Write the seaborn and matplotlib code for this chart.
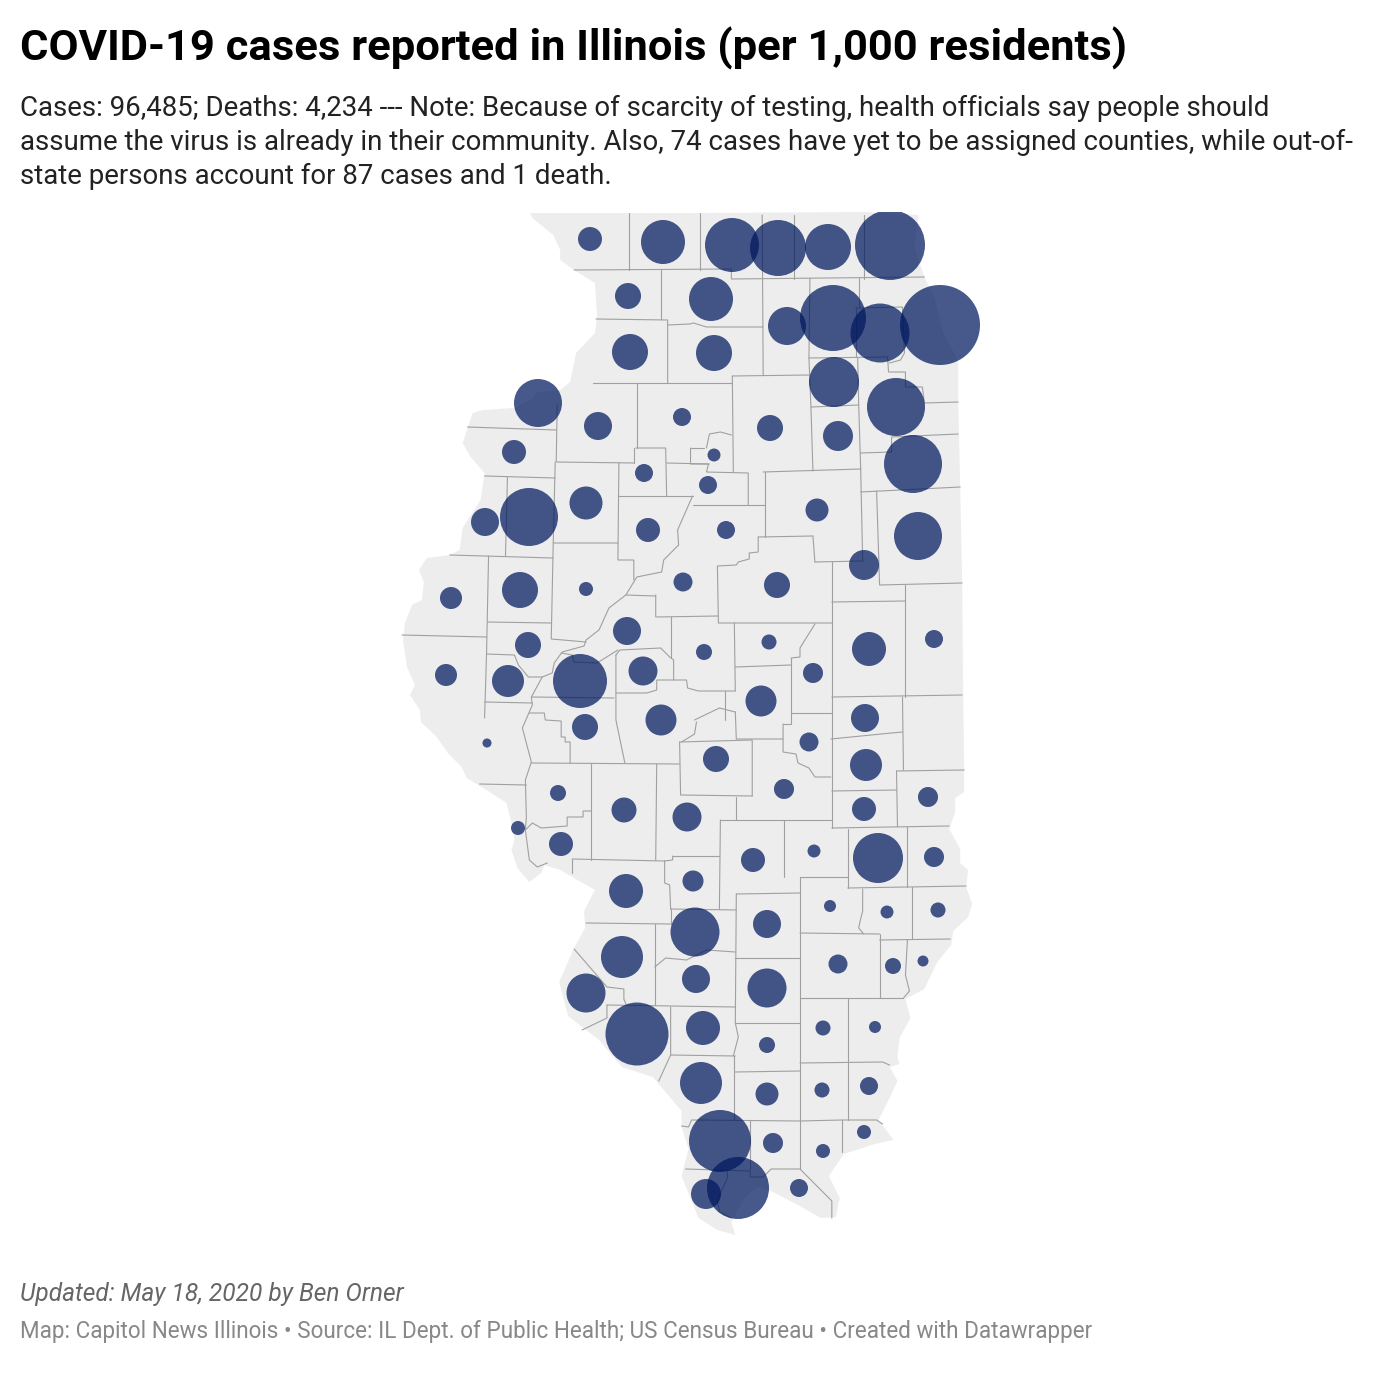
# Illinois COVID-19 bubble map, cases per 1,000 residents by county
import matplotlib.pyplot as plt
import pandas as pd
import seaborn as sns

# map coordinates: x to the east, y to the south
state_outline = [
    (531,213),(700,213),(868,212),(921,215),(917,247),(927,277),(937,297),(946,333),(958,355),(961,363),(961,400),(963,487),
    (965,583),(966,693),(967,770),(967,792),(958,798),(958,812),(952,829),(963,849),(963,863),(971,870),(969,887),
    (975,904),(971,917),(956,931),(954,945),(940,962),(927,989),(908,999),(913,1018),(902,1038),(900,1057),(902,1064),
    (892,1067),(900,1081),(892,1098),(881,1120),(896,1140),(877,1144),(846,1154),(831,1176),(842,1198),(838,1217),
    (823,1218),(800,1205),(773,1191),(760,1187),(747,1197),(733,1222),(737,1235),(719,1230),(700,1218),
    (683,1176),(690,1149),(683,1127),(683,1111),(654,1077),(623,1067),(600,1040),(569,1016),
    (560,982),(575,948),(586,928),(585,911),(596,890),(561,870),(545,865),(542,873),(530,882),(518,868),(512,850),
    (515,840),(512,823),(507,803),(487,790),(467,778),(462,767),(448,753),(437,737),(421,722),(420,710),(410,695),
    (415,685),(407,667),(403,640),(405,623),(412,605),(422,600),(424,582),(419,570),(427,558),
    (450,555),(460,550),(463,528),(481,500),(485,473),(471,457),(463,443),(473,413),(483,410),(515,408),(531,400),
    (538,392),(561,390),(571,382),(577,353),(596,333),(598,317),(596,283),(575,270),(561,260),(561,250),(554,235),(533,218),
]

county_lines = [
    [(575,270),(733,269),(733,279),(927,277)],
    [(630,213),(630,270)], [(702,213),(702,270)], [(764,215),(765,375)],
    [(796,215),(796,279)], [(866,215),(866,279)], [(662,270),(662,319)],
    [(597,319),(669,320),(669,383)], [(669,325),(691,324),(695,323),(708,327),(765,327)],
    [(594,383),(734,383)], [(734,376),(812,375)], [(734,376),(735,472)],
    [(812,278),(811,358),(813,407),(815,471)], [(861,278),(861,308)],
    [(858,308),(905,307),(907,353),(903,360),(892,363)], [(858,308),(858,357)],
    [(811,358),(890,357),(891,372),(908,372),(908,387),(925,387),(927,403),(961,402)],
    [(860,358),(861,405),(863,469)], [(813,407),(861,405)], [(765,472),(863,469)],
    [(863,453),(894,452),(894,437),(961,434)], [(863,492),(963,487)], [(863,469),(865,561)],
    [(879,491),(882,585),(965,583)], [(817,562),(865,561)], [(815,536),(817,562)],
    [(760,537),(815,536)], [(767,472),(767,537)],
    [(760,537),(760,552),(751,553),(751,559),(740,562),(738,565),(719,566),(720,623),(834,623)],
    [(834,562),(834,697)], [(834,602),(908,601)], [(908,585),(908,697)], [(834,697),(965,695)],
    [(638,383),(638,448)], [(558,405),(557,462),(635,463)], [(637,448),(667,448),(668,496)],
    [(635,448),(635,463)], [(620,463),(619,560),(635,560),(635,580)], [(619,496),(694,496)],
    [(708,448),(711,434),(722,432),(733,435)], [(692,448),(706,448)],
    [(692,448),(692,464),(710,464),(708,472),(750,473),(750,505)], [(668,463),(711,464)],
    [(694,505),(767,505)],
    [(694,496),(679,530),(680,545),(665,560),(663,572),(638,577),(627,595),(610,608),(600,630),(587,640),(585,646),
     (563,652),(555,663),(553,673),(543,677),(532,697),(533,705),(523,728),(532,762),(526,780),(527,817),(526,830),
     (530,860),(538,867),(548,863)],
    [(556,462),(554,543),(619,543)], [(554,543),(552,639),(587,642)], [(485,476),(556,478)],
    [(508,477),(506,556)], [(450,555),(554,558)], [(489,556),(487,653),(485,718)],
    [(402,635),(487,637)], [(488,622),(552,623)], [(468,427),(557,430)],
    [(487,654),(515,655),(519,665),(529,677),(543,677)],
    [(562,653),(573,655),(575,662),(598,663),(619,650)],
    [(485,702),(533,703)], [(533,697),(615,698)], [(617,655),(617,720),(626,763)],
    [(617,655),(621,650),(662,648),(671,657),(675,660),(675,680),(688,680),(689,688),(700,691),(737,691)],
    [(617,693),(648,693),(658,690),(658,680),(675,680)], [(672,617),(672,657)],
    [(657,595),(657,617),(720,616)], [(627,595),(657,596)], [(736,623),(737,691)],
    [(737,667),(793,665)], [(793,658),(802,657),(802,648),(817,624)], [(793,658),(793,713)],
    [(793,713),(834,713)], [(727,691),(727,720)], [(834,697),(834,828)],
    [(696,720),(721,708),(737,712)], [(737,712),(738,739),(785,739)],
    [(698,722),(696,734),(683,742)], [(681,742),(754,740),(754,796)], [(681,742),(682,795),(754,796)],
    [(785,724),(785,752),(798,754),(800,763),(811,768),(817,777),(833,777)],
    [(785,724),(793,724),(793,713)], [(833,739),(894,733),(905,732)], [(905,697),(906,770)],
    [(834,791),(899,790)], [(899,771),(900,827)], [(899,771),(967,770)], [(834,828),(952,826)],
    [(850,829),(850,888)], [(910,827),(910,887)], [(850,888),(969,886)], [(802,877),(850,877)],
    [(786,820),(786,877)], [(722,820),(834,820)], [(722,820),(721,909)], [(738,797),(738,820)],
    [(802,877),(802,1169)], [(738,894),(802,893)], [(738,894),(737,1023)], [(672,909),(738,910)],
    [(674,856),(721,856)], [(666,861),(674,860),(674,856)], [(666,861),(666,883),(671,885),(672,909)],
    [(573,859),(666,861)], [(573,859),(573,873)], [(592,764),(592,860)], [(658,764),(657,860)],
    [(532,763),(681,764)], [(530,713),(545,713),(546,720),(562,721),(562,737),(566,737),(566,742),(571,742),(571,763)],
    [(480,784),(527,785)],
    [(526,830),(533,823),(542,828),(568,826),(568,817),(584,817),(584,811),(592,811)],
    [(802,933),(882,934)], [(865,889),(865,911),(862,923),(861,928),(866,934)], [(915,887),(915,939)],
    [(882,940),(953,939)], [(882,934),(882,998)], [(802,998),(906,998)],
    [(910,940),(908,975),(912,991),(906,998)], [(850,998),(850,1120)],
    [(802,1063),(885,1062),(892,1065)], [(737,1023),(802,1023)], [(737,958),(802,958)],
    [(737,1072),(802,1071)], [(656,967),(667,958),(688,960),(708,950),(737,952)],
    [(656,924),(656,1005)], [(587,923),(672,924)], [(672,909),(672,924)], [(608,1005),(737,1007)],
    [(672,1007),(672,1055),(737,1056)], [(737,1023),(740,1037),(735,1056)], [(736,1056),(736,1120)],
    [(672,1055),(660,1081)],
    [(683,1126),(690,1127),(693,1120),(802,1121),(844,1120),(879,1120),(885,1124)],
    [(752,1121),(752,1169)], [(844,1120),(844,1152)], [(687,1169),(752,1171)],
    [(752,1171),(752,1177),(765,1177),(773,1169),(802,1169),(834,1201),(834,1218)],
    [(729,1171),(729,1178),(719,1200),(721,1212),(733,1218)],
    [(575,949),(608,987),(625,989),(625,999),(627,1004)], [(608,1005),(608,1018),(583,1030)],
]

bubble_x = [590,663,732,778,828,890,628,711,787,833,
            880,940,630,714,834,896,538,598,682,770,
            838,514,714,913,644,708,586,529,485,726,
            648,817,918,864,451,520,586,683,777,627,
            934,869,704,769,528,643,813,446,508,580,
            761,661,865,585,809,487,716,866,784,558,
            624,687,928,864,518,561,753,814,878,934,
            693,626,830,887,938,695,767,622,838,893,
            923,696,767,586,637,703,823,875,767,701,
            767,822,869,720,773,864,823,799,706,738]
bubble_y = [239,242,245,248,247,245,296,299,326,318,
            333,325,352,353,382,407,403,426,417,428,
            436,452,455,464,473,485,503,517,522,530,
            530,510,536,565,598,590,589,582,585,631,
            639,649,652,642,645,671,673,675,681,681,
            701,720,718,727,742,743,759,765,789,793,
            810,817,797,809,828,844,860,851,858,857,
            881,891,906,912,910,932,924,957,964,966,
            961,979,988,993,1034,1028,1028,1027,1045,1083,
            1094,1090,1086,1141,1143,1132,1151,1188,1194,1188]
cases_per_1000 = [2.40,8.07,12.15,13.07,8.82,20.42,2.82,8.07,6.02,18.15,
                  14.5,26.67,5.4,5.4,10.42,14.02,9.6,3.27,1.35,2.82,
                  3.75,2.4,.7,14.02,1.35,1.35,4.54,14.02,3.27,1.35,
                  2.4,2.2,9.6,3.75,2.02,5.4,.82,1.5,2.82,3.27,
                  1.35,4.82,1.07,.94,2.82,3.5,1.67,2.02,4.27,12.15,
                  4.0,4.0,3.27,2.82,1.5,.34,2.82,4.27,1.67,1.07,
                  2.6,3.5,1.67,2.4,.82,2.4,2.4,.7,10.42,1.67,
                  1.84,4.82,.6,.7,.94,10.0,3.27,7.35,1.5,1.07,
                  .5,3.27,6.34,6.34,16.54,4.82,.94,.6,1.07,7.35,
                  2.2,.94,1.35,16.02,1.67,.82,.82,1.35,3.75,16.02]

title = "COVID-19 cases reported in Illinois (per 1,000 residents)"
subtitle = [
    "Cases: 96,485; Deaths: 4,234 --- Note: Because of scarcity of testing, health officials say people should",
    "assume the virus is already in their community. Also, 74 cases have yet to be assigned counties, while out-of-",
    "state persons account for 87 cases and 1 death.",
]
updated = "Updated: May 18, 2020 by Ben Orner"
credit = "Map: Capitol News Illinois • Source: IL Dept. of Public Health; US Census Bureau • Created with Datawrapper"

sns.set_theme(style="white")
plt.rcParams['font.family'] = ['Roboto', 'DejaVu Sans']

H = 1374
fig = plt.figure(figsize=(13.74, 13.74), dpi=100)
ax = fig.add_axes([0, (H - 1240) / H, 1, (1240 - 212) / H])

def squeeze(points):
    return [(400 + (x - 400) * 0.995, y) for x, y in points]

ax.fill(*zip(*squeeze(state_outline)), color='#ededed', lw=0)
for line in county_lines:
    ax.plot(*zip(*squeeze(line)), color='#a0a0a0', lw=0.8, solid_joinstyle='miter')

df = pd.DataFrame({'x': bubble_x, 'y': bubble_y, 'rate': cases_per_1000})
sns.scatterplot(data=df, x='x', y='y', size='rate', sizes=(42.3, 3318),
                size_norm=(0.34, 26.67), color='#00185f', alpha=0.72,
                linewidth=0, legend=False, ax=ax, zorder=3)
ax.set_xlim(0, H)
ax.set_ylim(1240, 212)
ax.set_axis_off()

def put(x, y, s, **kw):
    fig.text(x / H, 1 - y / H, s, va='baseline', ha='left', **kw)

put(20, 60, title, fontsize=31.3, fontweight='bold', color='#000000')
for y, s in zip([116, 150, 184], subtitle):
    put(20, y, s, fontsize=19.89, color='#222222')
put(20, 1301, updated, fontsize=17.66, style='italic', color='#666666')
put(20, 1338, credit, fontsize=16.22, color='#888888')

fig.savefig('out.png', dpi=100, facecolor='white')
